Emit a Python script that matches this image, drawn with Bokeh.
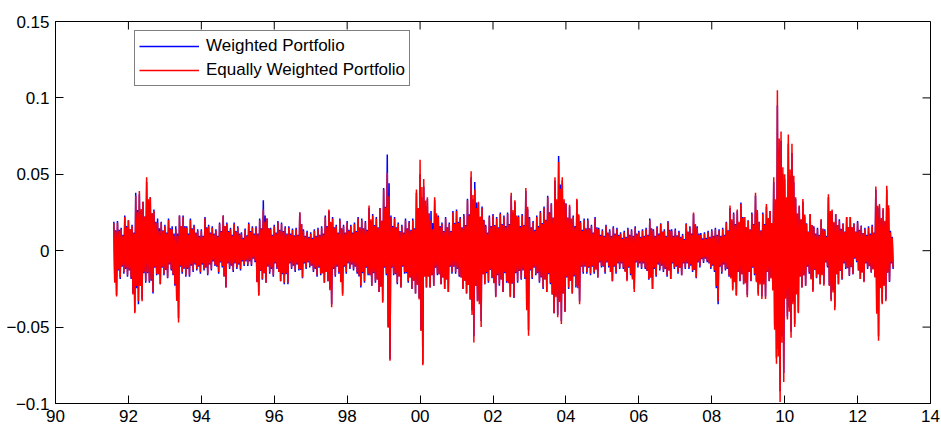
import numpy as np
from bokeh.plotting import figure
from bokeh.models import ColumnDataSource, FixedTicker, Legend, LegendItem
from bokeh.embed import file_html
from bokeh.resources import INLINE

# ---- data (returns in thousandths), one high/low pair per 0.1-year bin, starting 1991.6 ----
start_year = 91.6
bin_step = 0.1

red_high = [
    18, 18.5, 14, 22,
    20, 16, 36, 39, 32, 48, 35, 26, 18.5, 18.5,
    16, 20, 14, 14, 23, 22, 15, 20, 16, 13,
    13, 21, 16, 15, 13, 17.5, 23, 17.5, 14, 17.5,
    15, 11, 13.5, 17.5, 15, 15, 20, 27, 21, 14,
    16, 18.5, 17.5, 15, 15, 13.5, 14, 25, 13, 12,
    11, 13, 14, 15, 22, 27, 21, 16, 20, 16,
    18.5, 16, 17.5, 21, 20, 18.5, 29.5, 23, 21, 28,
    40, 51, 22, 21, 17.5, 16, 20, 18.5, 20, 40,
    59.5, 47, 35, 20, 35, 22, 17.5, 21, 17.5, 25,
    26, 21, 23, 33, 52, 40, 32, 28, 16, 22,
    23, 21, 24, 22, 24, 38, 33, 22, 23, 41,
    21, 18.5, 22, 25, 28, 35, 30.5, 48, 58, 48,
    30.5, 30, 22, 34, 18.5, 20, 20, 16, 21, 14,
    13, 16, 13, 15, 14, 11, 12, 14, 13, 15,
    12, 13, 14, 20, 13, 15, 17.5, 13, 18.5, 13,
    13.5, 12, 10, 17.5, 15, 25, 15, 10.5, 11, 12,
    13, 14, 13, 14, 18.5, 29.5, 24, 27, 30.5, 22,
    19.6, 24, 38, 18.5, 24, 30.5, 26, 48, 105, 78,
    50, 76, 70, 35, 29.5, 33.8, 17.5, 24, 15, 14,
    20.7, 13, 37, 27, 24, 19.6, 17.5, 22, 22, 17.5,
    18.5, 16, 14, 15, 16, 42, 30.5, 28, 42.5, 12,
]
red_low = [
    -30, -17.5, -14, -16,
    -17.5, -41, -33, -33, -20, -20, -27, -15, -22, -15,
    -17.5, -12, -22, -47, -14, -16, -16, -13, -12, -14,
    -12, -15, -12, -9, -14, -10, -24, -11, -13, -11,
    -12, -9, -9, -9, -6.5, -29.5, -18.5, -21, -14, -16,
    -11, -20, -21, -21, -11, -13, -12, -17.5, -11, -10,
    -13, -16, -15, -21, -20, -37, -16, -14, -29.5, -14,
    -11, -12, -14, -23, -20, -15, -23, -20, -27, -34,
    -15, -72, -15, -21, -24, -14, -20, -25, -28, -32,
    -75, -24, -24, -23, -15, -22, -25, -27, -14, -14,
    -16, -25, -28, -32, -60, -33, -50, -22, -20, -17.5,
    -30.5, -22, -27, -20, -30.5, -30.5, -20, -18.5, -17.5, -55.6,
    -17.5, -15, -20, -24, -27, -21, -41, -43.6, -48, -40,
    -24, -28, -23, -35, -14, -14, -15, -14, -17.5, -10,
    -14, -10, -20, -14, -11, -11, -20, -15, -27, -10,
    -11, -11, -18.5, -25, -16, -12, -13, -16, -18.5, -11,
    -14, -16, -11, -11, -13, -17.5, -10, -7, -6.5, -11,
    -13, -33, -14, -12, -16, -26, -29.5, -19.6, -22, -30.5,
    -19.6, -15, -29.5, -31.6, -31.6, -19.6, -26, -74, -99, -86,
    -45, -57, -50, -41, -24, -23, -14, -27, -17.5, -22,
    -23, -10, -33, -39, -22, -18.5, -11, -16, -15, -6.5,
    -18.5, -20.7, -11, -14, -17.5, -59, -35, -33, -20, -11,
]
blue_high = [
    19, 19.5, 15, 23,
    20, 17, 38, 37, 32, 45, 35, 27, 21, 19,
    17, 21, 16, 16, 23, 23, 16, 21, 17, 14,
    14, 22, 17, 16, 14, 18.5, 23, 18.5, 15, 18.5,
    16, 12, 14.5, 18.5, 16, 16, 21, 33, 21, 15,
    17, 19.5, 18.5, 16, 16, 14.5, 15, 25, 14, 13,
    12, 14, 15, 16, 23, 26, 22, 17, 21, 17,
    19.5, 17, 18.5, 22, 21, 19.5, 28, 24, 22, 28,
    41, 63, 23, 22, 18.5, 17, 21, 19.5, 21, 38,
    50, 42, 34, 26, 33, 23, 18.5, 22, 18.5, 26,
    27, 22, 24, 34, 48, 45, 31, 29, 17, 23,
    24, 22, 25, 23, 25, 36, 32, 23, 24, 39,
    22, 19.5, 23, 26, 29, 36, 31, 46, 62, 46,
    31, 29, 23, 33, 19.5, 21, 21, 17, 22, 15,
    14, 17, 14, 16, 15, 12, 13, 15, 14, 16,
    13, 14, 15, 21, 14, 16, 18, 14, 19.5, 14,
    14.5, 13, 11, 18, 16, 24, 16, 11.5, 12, 13,
    14, 15, 14, 15, 19, 28, 25, 26, 31.5, 22,
    20, 25, 36, 19, 25, 29, 26, 45, 95, 72,
    47, 70, 64, 34, 29, 32, 18, 24, 16, 15,
    20, 14, 35, 26, 24, 20.5, 18, 22, 22, 18,
    19.5, 16.5, 15, 16, 17, 40, 29, 27, 40, 13,
]
blue_low = [
    -29, -18.5, -15, -17,
    -18.5, -40, -35, -32, -21, -21, -28, -16, -22, -16,
    -18, -13, -23, -44, -15, -17, -17, -14, -13, -15,
    -13, -16, -13, -10, -15, -11, -24, -12, -14, -12,
    -13, -10, -10, -10, -7.5, -29, -19, -21, -15, -17,
    -12, -20, -22, -22, -12, -14, -13, -18, -12, -11,
    -14, -17, -16, -21, -20, -35, -17, -15, -28, -15,
    -12, -13, -15, -24, -21, -16, -23, -21, -27, -33,
    -16, -71, -16, -22, -24, -15, -21, -25, -28, -31,
    -74, -24, -24, -23, -16, -22, -25, -27, -15, -15,
    -17, -25, -28, -32, -56, -33, -46, -22, -21, -18,
    -30, -23, -27, -21, -30, -31, -21, -19, -18.5, -52,
    -18.5, -16, -21, -25, -27, -22, -41, -42, -46, -40,
    -25, -28, -24, -33, -15, -15, -16, -15, -17.5, -11,
    -15, -11, -20, -15, -12, -12, -19, -16, -25, -11,
    -12, -12, -19, -25, -17, -13, -14, -17, -18.5, -12,
    -15, -16, -12, -12, -14, -18, -11, -8, -7.5, -12,
    -14, -35, -15, -13, -17, -25, -29, -20, -22, -29,
    -20, -16, -28, -30, -30, -20, -25, -70, -92, -80,
    -43, -53, -48, -40, -24, -23, -15, -26, -18, -22,
    -22, -11, -32, -37, -22, -19, -12, -16.5, -15.5, -7.5,
    -18.5, -20, -12, -14.5, -17, -56, -34, -32, -20.5, -12,
]

x_ticks = [90, 92, 94, 96, 98, 100, 102, 104, 106, 108, 110, 112, 114]
x_tick_labels = ["90", "92", "94", "96", "98", "00", "02", "04", "06", "08", "10", "12", "14"]
y_ticks = [-0.1, -0.05, 0.0, 0.05, 0.1, 0.15]
y_tick_labels = ["\u22120.1", "\u22120.05", "0", "0.05", "0.1", "0.15"]

series_names = ["Weighted Portfolio", "Equally Weighted Portfolio"]

X_START, X_END = 90, 114
Y_START, Y_END = -0.1, 0.15
FRAME_W, FRAME_H = 875, 382
TICK_PX = 8
INNER = 0.7   # drawing only: depth of the short strokes that fill each bin's dense middle


def trace(high, low):
    """Per bin: a stroke to the bin's high, a short inner stroke, a stroke to the bin's low."""
    n = len(high)
    hi = np.asarray(high, float)
    lo = np.asarray(low, float)
    t0 = start_year + bin_step * np.arange(n)
    xs = np.empty(4 * n)
    ys = np.empty(4 * n)
    for k, (off, vals) in enumerate([(0.0, hi), (0.25, INNER * lo), (0.5, INNER * hi), (0.75, lo)]):
        xs[k::4] = t0 + off * bin_step
        ys[k::4] = vals / 1000.0
    return ColumnDataSource(dict(x=xs, y=ys))


FONT = "Liberation Sans"

p = figure(width=941, height=430, x_range=(X_START, X_END), y_range=(Y_START, Y_END),
           output_backend="svg", toolbar_location=None,
           min_border_left=55, min_border_right=11, min_border_top=21, min_border_bottom=27)
p.background_fill_color = "white"
p.border_fill_color = "white"
p.outline_line_color = "black"
p.outline_line_width = 1
p.grid.visible = False

rb = p.line("x", "y", source=trace(blue_high, blue_low), line_color="#0000FF", line_width=1.5)
rr = p.line("x", "y", source=trace(red_high, red_low), line_color="#FF0000", line_width=1.5)

# inward ticks on the top and right edges of the box (MATLAB style)
dx = TICK_PX * (X_END - X_START) / FRAME_W
dy = TICK_PX * (Y_END - Y_START) / FRAME_H
p.segment(x0=x_ticks, y0=[Y_END] * len(x_ticks), x1=x_ticks, y1=[Y_END - dy] * len(x_ticks),
          line_color="black", line_width=1)
p.segment(x0=[X_END] * len(y_ticks), y0=y_ticks, x1=[X_END - dx] * len(y_ticks), y1=y_ticks,
          line_color="black", line_width=1)


def style_axis(ax, ticks, labels):
    ax.ticker = FixedTicker(ticks=ticks)
    ax.axis_line_color = "black"
    ax.axis_line_width = 1
    ax.major_tick_line_color = "black"
    ax.major_tick_in = TICK_PX
    ax.major_tick_out = 0
    ax.minor_tick_in = 0
    ax.minor_tick_out = 0
    ax.major_label_text_font = FONT
    ax.major_label_text_color = "black"
    ax.major_label_text_font_size = "17px"
    ax.major_label_standoff = 6
    ax.major_label_overrides = {v: s for v, s in zip(ticks, labels)}


style_axis(p.xaxis[0], x_ticks, x_tick_labels)
style_axis(p.yaxis[0], y_ticks, y_tick_labels)

legend = Legend(items=[LegendItem(label=series_names[0], renderers=[rb]),
                       LegendItem(label=series_names[1], renderers=[rr])],
                location=(79, 317), margin=0, padding=4, spacing=2,
                label_height=22, glyph_height=22, glyph_width=60, label_standoff=7,
                label_text_font=FONT, label_text_font_size="17px", label_text_color="black",
                border_line_color="black", border_line_width=1,
                background_fill_color="white", background_fill_alpha=1.0)
p.add_layout(legend, "center")

open("out.html", "w").write(file_html(p, INLINE))
